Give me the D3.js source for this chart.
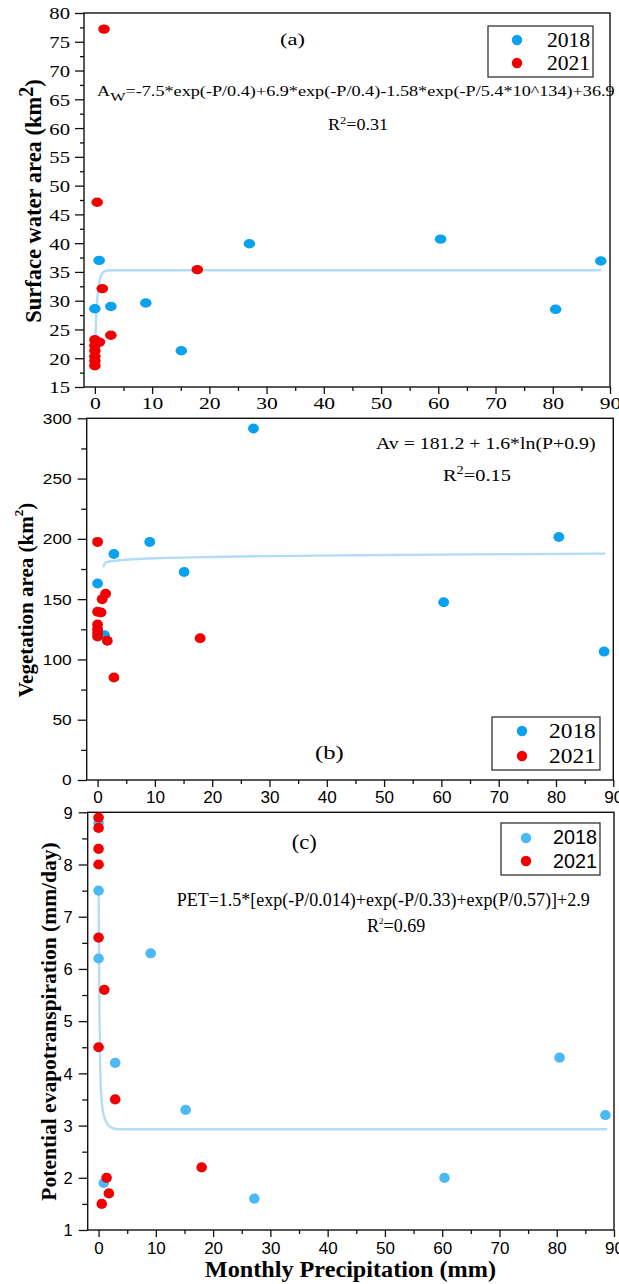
<!DOCTYPE html>
<html>
<head>
<meta charset="utf-8">
<script src="https://cdn.jsdelivr.net/npm/d3@7"></script>
<style>
  body { margin: 0; background: #fff; }
</style>
</head>
<body>
<div id="chart"></div>
<script>
// ---- data ----
// (a) surface water area (km2) vs monthly precipitation (mm)
var waterP2018 = [0, 0.75, 2.8, 8.9, 15.1, 27.0, 60.4, 80.5, 88.4];
var water2018  = [28.6, 37.0, 29.0, 29.6, 21.3, 39.9, 40.7, 28.5, 36.9];
var waterP2021 = [1.6, 0.4, 1.3, 17.9, 2.8, 0.8, 0, 0, 0, 0, 0, 0];
var water2021  = [77.2, 47.1, 32.1, 35.4, 24.0, 22.8, 23.2, 22.2, 21.3, 20.3, 19.5, 18.7];
var fitWaterP  = [0.05, 0.2, 0.35, 0.5, 0.8, 1.1, 1.5, 2.2, 4, 88.5];
var fitWater   = [21.1, 26.5, 29.5, 31.2, 33.4, 34.4, 35.0, 35.25, 35.3, 35.3];

// (b) vegetation area (km2)
var vegP2018 = [0, 1.2, 2.85, 9.1, 15.1, 27.2, 60.4, 80.5, 88.4];
var veg2018  = [163, 120, 187.5, 197.5, 172.5, 291.5, 147.5, 201.5, 106.5];
var vegP2021 = [0, 1.4, 0.8, 0, 0.6, 0, 0, 0, 0, 1.7, 2.85, 17.9];
var veg2021  = [197.5, 154.5, 150, 139.5, 139, 129, 125, 122, 119, 115.5, 85, 117.5];
var fitVegP  = [1.0, 1.15, 1.4, 1.8, 2.5, 4, 7, 12, 20, 30, 45, 65, 88.6];
var fitVeg   = [176.5, 178.8, 180.2, 181.0, 181.6, 182.4, 183.3, 184.2, 185.0, 185.7, 186.4, 187.1, 187.8];

// (c) potential evapotranspiration (mm/day)
var petP2018 = [0, 0, 0, 0.9, 2.9, 9.1, 15.2, 27.2, 60.4, 80.5, 88.5];
var pet2018  = [8.8, 7.5, 6.2, 1.9, 4.2, 6.3, 3.3, 1.6, 2.0, 4.3, 3.2];
var petP2021 = [0, 0, 0, 0, 0, 1.0, 0, 2.9, 18.0, 1.4, 1.8, 0.55];
var pet2021  = [8.9, 8.7, 8.3, 8.0, 6.6, 5.6, 4.5, 3.5, 2.2, 2.0, 1.7, 1.5];
var fitPetP  = [0.02, 0.08, 0.15, 0.25, 0.4, 0.6, 0.9, 1.4, 2.1, 3.3, 88.8];
var fitPet   = [7.45, 6.3, 5.2, 4.3, 3.7, 3.4, 3.2, 3.05, 2.97, 2.93, 2.93];

var years = ["2018", "2021"];
var xTicks = [0, 10, 20, 30, 40, 50, 60, 70, 80, 90];
var xMinorTicks = [5, 15, 25, 35, 45, 55, 65, 75, 85];

var serif = "'Liberation Serif','Times New Roman',serif";
var sans = "'Liberation Sans',Arial,sans-serif";
var red = "#f00000";

var svg = d3.select("#chart").append("svg")
    .attr("width", 619)
    .attr("height", 1284);

svg.append("rect").attr("width", 619).attr("height", 1284).attr("fill", "#fff");

// text with optional sub/superscripts; parts = [[str, shiftPx, size], ...]
function rich(g, x, y, parts, o) {
    var t = g.append("text")
        .attr("transform", "translate(" + x + "," + y + ")" + (o.rot ? " rotate(-90)" : "") + " scale(" + (o.sx || 1) + ",1)")
        .attr("font-family", o.family || serif)
        .attr("font-size", o.size)
        .attr("font-weight", o.weight || "normal")
        .attr("text-anchor", o.anchor || "start")
        .attr("fill", "#000");
    var shift = 0;
    parts.forEach(function(p) {
        var want = p[1] || 0;
        var sp = t.append("tspan").text(p[0]);
        if (want - shift !== 0) sp.attr("dy", want - shift);
        if (p[2]) sp.attr("font-size", p[2]);
        shift = want;
    });
    return t;
}

function panel(c) {
    var g = svg.append("g");
    var x = d3.scaleLinear().domain([-1.9, 90]).range([c.left, c.right]);
    var y = d3.scaleLinear().domain(c.ydom).range([c.bottom, c.top]);

    // minor ticks
    g.append("g")
        .attr("transform", "translate(0," + c.bottom + ")")
        .call(d3.axisBottom(x).tickValues(xMinorTicks).tickSize(4).tickFormat("").tickSizeOuter(0))
        .call(function(a) { a.select(".domain").remove(); });
    g.append("g")
        .attr("transform", "translate(" + c.left + ",0)")
        .call(d3.axisLeft(y).tickValues(c.yMinor).tickSize(c.yMinorLen).tickFormat("").tickSizeOuter(0))
        .call(function(a) { a.select(".domain").remove(); });

    // major ticks + labels
    var gx = g.append("g")
        .attr("transform", "translate(0," + c.bottom + ")")
        .call(d3.axisBottom(x).tickValues(xTicks).tickSize(7).tickSizeOuter(0));
    gx.attr("font-family", c.xfam).attr("font-size", c.xsize);
    gx.selectAll("text")
        .attr("y", c.xoff).attr("dy", null)
        .attr("transform", "scale(" + c.xsx + ",1)");

    var gy = g.append("g")
        .attr("transform", "translate(" + c.left + ",0)")
        .call(d3.axisLeft(y).tickValues(c.yTicks).tickSize(9).tickSizeOuter(0));
    gy.attr("font-family", c.yfam).attr("font-size", c.ysize);
    gy.selectAll("text")
        .attr("x", -c.ygap / c.ysx).attr("dy", "0.35em")
        .attr("transform", "scale(" + c.ysx + ",1)");

    g.selectAll(".tick line").attr("stroke", "#111").attr("stroke-width", 1.3);
    g.selectAll(".domain").remove();
    g.selectAll(".tick text").attr("fill", "#000");

    // frame
    g.append("rect")
        .attr("x", c.left).attr("y", c.top)
        .attr("width", c.right - c.left).attr("height", c.bottom - c.top)
        .attr("fill", "none").attr("stroke", "#111").attr("stroke-width", 1.4);

    // fitted curve
    var fit = c.fitP.map(function(p, i) { return [p, c.fitV[i]]; });
    g.append("path")
        .datum(fit)
        .attr("fill", "none")
        .attr("stroke", "#b3dcf6")
        .attr("stroke-width", 2.4)
        .attr("d", d3.line()
            .x(function(d) { return x(d[0]); })
            .y(function(d) { return y(d[1]); })
            .curve(d3.curveMonotoneX));

    // points
    var series = [
        { p: c.p18, v: c.v18, col: c.blue },
        { p: c.p21, v: c.v21, col: red }
    ];
    series.forEach(function(s) {
        g.selectAll(null)
            .data(s.p.map(function(p, i) { return [p, s.v[i]]; }))
            .enter().append("ellipse")
            .attr("cx", function(d) { return x(d[0]); })
            .attr("cy", function(d) { return y(d[1]); })
            .attr("rx", c.rx).attr("ry", c.ry)
            .attr("fill", s.col);
    });

    // legend
    var L = c.legend;
    g.append("rect")
        .attr("x", L.x0).attr("y", L.y0)
        .attr("width", L.x1 - L.x0).attr("height", L.y1 - L.y0)
        .attr("fill", "#fff").attr("stroke", "#333").attr("stroke-width", 1.3);
    years.forEach(function(yr, i) {
        g.append("circle")
            .attr("cx", L.cx).attr("cy", L.cy[i]).attr("r", 5.2)
            .attr("fill", i === 0 ? c.blue : red);
        rich(g, L.tx, L.ty[i], [[yr]], { size: L.size, sx: L.sx, family: L.fam });
    });

    return g;
}

// (a)
var ga = panel({
    left: 84, right: 610, top: 13, bottom: 387,
    ydom: [15, 80], yTicks: d3.range(15, 81, 5), yMinor: d3.range(17.5, 80, 5), yMinorLen: 4,
    xfam: serif, xsize: 17, xsx: 1.27, xoff: 22.5,
    yfam: serif, ysize: 17, ysx: 1.22, ygap: 14,
    p18: waterP2018, v18: water2018, p21: waterP2021, v21: water2021,
    fitP: fitWaterP, fitV: fitWater,
    blue: "#0aa2ef", rx: 5.8, ry: 4.7,
    legend: { x0: 488, x1: 593, y0: 26, y1: 77, cx: 517, cy: [40, 63], tx: 547, ty: [46.7, 70], size: 20, sx: 1.08, fam: serif }
});
rich(ga, 41, 201, [["Surface water area (km"], ["2", -8, 20], [")", 0]], { size: 22.5, weight: "bold", anchor: "middle", rot: true });
rich(ga, 280, 44.5, [["(a)"]], { size: 17, sx: 1.32 });
rich(ga, 97, 96, [["A"], ["W", 4.5, 12.5], ["=-7.5*exp(-P/0.4)+6.9*exp(-P/0.4)-1.58*exp(-P/5.4*10^134)+36.9", 0]], { size: 14, sx: 1.3 });
rich(ga, 328, 130, [["R"], ["2", -6, 11], ["=0.31", 0]], { size: 16, sx: 1.13 });

// (b)
var gb = panel({
    left: 86.7, right: 613.3, top: 418.3, bottom: 780,
    ydom: [0, 300], yTicks: d3.range(0, 301, 50), yMinor: d3.range(25, 300, 50), yMinorLen: 5.5,
    xfam: sans, xsize: 16, xsx: 1.07, xoff: 23,
    yfam: sans, ysize: 14, ysx: 1.24, ygap: 15,
    p18: vegP2018, v18: veg2018, p21: vegP2021, v21: veg2021,
    fitP: fitVegP, fitV: fitVeg,
    blue: "#0aa2ef", rx: 5.4, ry: 5.0,
    legend: { x0: 492, x1: 600, y0: 717, y1: 770, cx: 522, cy: [731, 756], tx: 549, ty: [738.3, 763.3], size: 20, sx: 1.17, fam: serif }
});
rich(gb, 33, 600, [["Vegetation area (km"], ["2", -10, 13], [")", 0]], { size: 21, weight: "bold", anchor: "middle", rot: true });
rich(gb, 315, 759, [["(b)"]], { size: 19, sx: 1.3 });
rich(gb, 376, 449, [["Av = 181.2 + 1.6*ln(P+0.9)"]], { size: 16.5, sx: 1.2 });
rich(gb, 443, 481, [["R"], ["2", -7, 12], ["=0.15", 0]], { size: 17, sx: 1.2 });

// (c)
var gc = panel({
    left: 87.7, right: 614, top: 812.3, bottom: 1230,
    ydom: [1, 9], yTicks: d3.range(1, 9.01, 1), yMinor: d3.range(1.5, 9, 1), yMinorLen: 5.5,
    xfam: sans, xsize: 17, xsx: 1.0, xoff: 24,
    yfam: sans, ysize: 16.5, ysx: 1.0, ygap: 15,
    p18: petP2018, v18: pet2018, p21: petP2021, v21: pet2021,
    fitP: fitPetP, fitV: fitPet,
    blue: "#4cb9f6", rx: 5.3, ry: 5.1,
    legend: { x0: 501, x1: 600, y0: 823, y1: 875, cx: 526, cy: [838, 861], tx: 553, ty: [844, 868.3], size: 19.8, sx: 1.0, fam: sans }
});
rich(gc, 55.5, 1021.5, [["Potential evapotranspiration (mm/day)"]], { size: 21.5, weight: "bold", anchor: "middle", rot: true });
rich(gc, 291.7, 849, [["(c)"]], { size: 20, sx: 1.13 });
rich(gc, 176.7, 906, [["PET=1.5*[exp(-P/0.014)+exp(-P/0.33)+exp(P/0.57)]+2.9"]], { size: 18, sx: 1.0 });
rich(gc, 367, 932, [["R"], ["2", -8, 9], ["=0.69", 0]], { size: 18, sx: 1.0 });
rich(gc, 350.4, 1277, [["Monthly Precipitation (mm)"]], { size: 23.5, weight: "bold", anchor: "middle", sx: 1.03 });
</script>
</body>
</html>
